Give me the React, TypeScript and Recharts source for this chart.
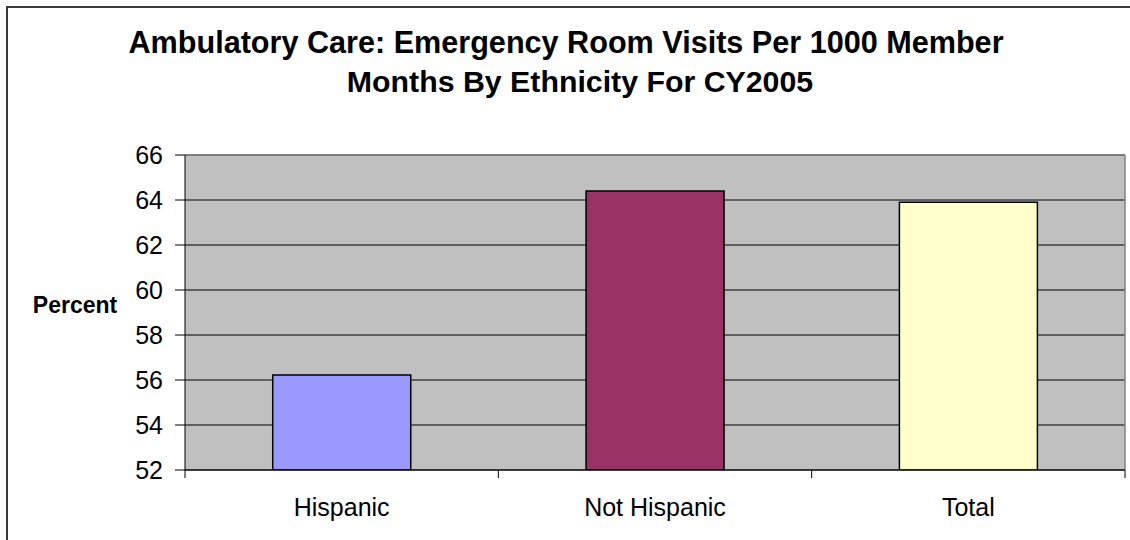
import React from 'react';
import { BarChart, Bar, XAxis, YAxis, CartesianGrid, Cell, ReferenceLine, Label } from 'recharts';

const categories = ['Hispanic', 'Not Hispanic', 'Total'];
const values = [56.22, 64.4, 63.9];
const barColors = ['#9999FF', '#993366', '#FFFFCC'];
const yTicks = [52, 54, 56, 58, 60, 62, 64, 66];
const titleLines = ['Ambulatory Care: Emergency Room Visits Per 1000 Member', 'Months By Ethnicity For CY2005'];
const yAxisTitle = 'Percent';

const data = categories.map((c, i) => ({ name: c, value: values[i] }));

const FONT = 'Liberation Sans, Arial, sans-serif';

const CatTick = (props: any) => {
  const { x, y, payload, index } = props;
  const off = payload && payload.offset ? payload.offset : 0;
  const last = index === categories.length - 1;
  return (
    <g>
      <line x1={x - off} y1={y} x2={x - off} y2={y + 8} stroke="#000" strokeWidth={1} />
      {last && <line x1={x + off} y1={y} x2={x + off} y2={y + 8} stroke="#000" strokeWidth={1} />}
      <text x={x} y={y + 46} textAnchor="middle" fontSize={25} fontFamily={FONT} fill="#000">
        {payload.value}
      </text>
    </g>
  );
};

const YTitle = (props: any) => {
  const vb = props.viewBox || {};
  return (
    <text x={75} y={vb.y + vb.height / 2} textAnchor="middle" fontSize={23} fontWeight="bold" fontFamily={FONT} fill="#000">
      {yAxisTitle}
    </text>
  );
};

export default function App() {
  return (
    <div style={{ position: 'fixed', left: 0, top: 0, width: 1130, height: 540, overflow: 'hidden', background: '#fff' }}>
      <div style={{ position: 'absolute', left: 6, top: 6, width: 1200, height: 700, border: '2px solid #3a3a3a', boxSizing: 'border-box' }} />
      <svg style={{ position: 'absolute', left: 0, top: 0 }} width={1130} height={120}>
        <text x={566} y={53} textAnchor="middle" fontSize={30.6} fontWeight="bold" fontFamily={FONT} fill="#000">{titleLines[0]}</text>
        <text x={580} y={92} textAnchor="middle" fontSize={30.3} fontWeight="bold" fontFamily={FONT} fill="#000">{titleLines[1]}</text>
      </svg>
      <div style={{ position: 'absolute', left: 0, top: 0 }}>
        <BarChart width={1130} height={540} data={data} margin={{ top: 155, right: 5, bottom: 0, left: 0 }} barCategoryGap="28%">
          <CartesianGrid vertical={false} stroke="#000" strokeWidth={1} fill="#C0C0C0" fillOpacity={1} />
          <CartesianGrid
            horizontal={false}
            stroke="#808080"
            strokeWidth={1.5}
            verticalCoordinatesGenerator={({ offset }: any) => [offset.left + offset.width]}
          />
          <XAxis
            dataKey="name"
            type="category"
            axisLine={{ stroke: '#000', strokeWidth: 1 }}
            tickLine={false}
            tickSize={0}
            tickMargin={0}
            height={70}
            tick={<CatTick />}
            interval={0}
          />
          <YAxis
            domain={[52, 66]}
            ticks={yTicks}
            interval={0}
            width={185}
            tickSize={10}
            tickMargin={12}
            axisLine={{ stroke: '#000', strokeWidth: 1 }}
            tickLine={{ stroke: '#000', strokeWidth: 1 }}
            tick={{ fontSize: 25, fontFamily: FONT, fill: '#000' }}
            allowDataOverflow
          >
            <Label content={<YTitle />} />
          </YAxis>
          <ReferenceLine y={66} stroke="#808080" strokeWidth={1.5} />
          <Bar dataKey="value" stroke="#000" strokeWidth={1.5} isAnimationActive={false}>
            {data.map((d, i) => (
              <Cell key={d.name} fill={barColors[i]} />
            ))}
          </Bar>
        </BarChart>
      </div>
    </div>
  );
}
